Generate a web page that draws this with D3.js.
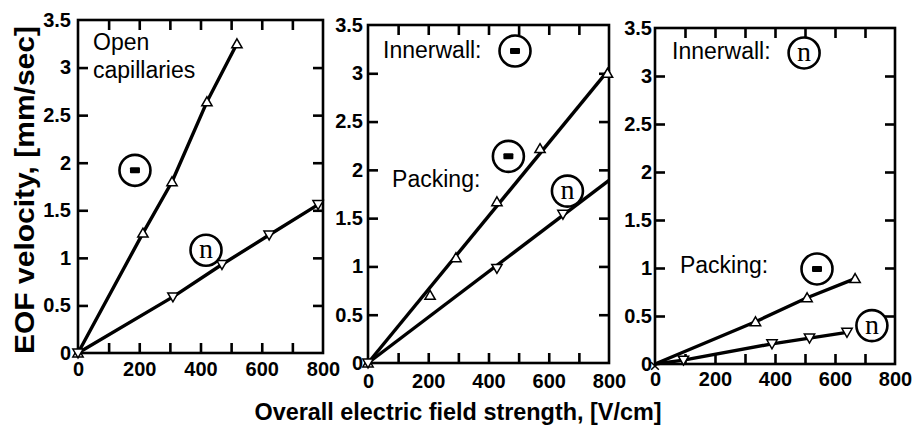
<!DOCTYPE html>
<html>
<head>
<meta charset="utf-8">
<script src="https://cdn.jsdelivr.net/npm/d3@7"></script>
<style>
  body { margin: 0; background: #fff; }
  svg { display: block; }
</style>
</head>
<body>
<svg id="chart" width="915" height="432"></svg>
<script>
// ---- axis ticks ----
const fieldTicks = [0, 200, 400, 600, 800];
const fieldMinorTicks = [100, 200, 300, 400, 500, 600, 700];
const velocityTicks = [0, 0.5, 1, 1.5, 2, 2.5, 3, 3.5];
const velocityInnerTicks = [0.5, 1, 1.5, 2, 2.5, 3];
const velocityLabels = ["0", "0.5", "1", "1.5", "2", "2.5", "3", "3.5"];

// ---- panel A: open capillaries ----
const openNegField = [0, 212, 307, 421, 519];
const openNegVel   = [0, 1.26, 1.80, 2.64, 3.25];
const openNeuField = [0, 310, 470, 624, 784];
const openNeuVel   = [0, 0.59, 0.93, 1.24, 1.56];

// ---- panel B: negatively charged inner wall ----
const negWallNegField = [0, 206, 292, 428, 571, 795];
const negWallNegVel   = [0, 0.70, 1.09, 1.67, 2.22, 3.00];
const negWallNeuField = [0, 428, 647];
const negWallNeuVel   = [0, 0.98, 1.54];
const negWallFitField  = [0, 800];
const negWallNegFitVel = [0, 3.04];
const negWallNeuFitVel = [0, 1.89];

// ---- panel C: neutral inner wall ----
const neuWallNegField = [0, 335, 507, 667];
const neuWallNegVel   = [0, 0.44, 0.69, 0.89];
const neuWallNeuField = [0, 95, 390, 515, 640];
const neuWallNeuVel   = [0, 0.04, 0.21, 0.27, 0.33];

const zip = (xs, ys) => xs.map((x, i) => [x, ys[i]]);

const panels = [
  {
    box: { left: 78, right: 323, top: 20, bottom: 353 }, labelGap: 7, xLabelDy: 16,
    series: [
      { pts: zip(openNegField, openNegVel), line: zip(openNegField, openNegVel), marker: "up" },
      { pts: zip(openNeuField, openNeuVel), line: zip(openNeuField, openNeuVel), marker: "down" }
    ],
    texts: [
      { t: "Open", x: 49, y: 3.18 },
      { t: "capillaries", x: 49, y: 2.89 }
    ],
    badges: [
      { k: "-", x: 186, y: 1.92 },
      { k: "n", x: 418, y: 1.08 }
    ]
  },
  {
    box: { left: 368, right: 609, top: 25, bottom: 363 }, labelGap: 5, xLabelDy: 18,
    series: [
      { pts: zip(negWallNegField, negWallNegVel), line: zip(negWallFitField, negWallNegFitVel), marker: "up" },
      { pts: zip(negWallNeuField, negWallNeuVel), line: zip(negWallFitField, negWallNeuFitVel), marker: "down" }
    ],
    texts: [
      { t: "Innerwall:", x: 50, y: 3.16 },
      { t: "Packing:", x: 80, y: 1.82 }
    ],
    badges: [
      { k: "-", x: 488, y: 3.23 },
      { k: "-", x: 466, y: 2.14 },
      { k: "n", x: 662, y: 1.78 }
    ]
  },
  {
    box: { left: 655, right: 895, top: 28, bottom: 364 }, labelGap: 3, xLabelDy: 15,
    series: [
      { pts: zip(neuWallNegField, neuWallNegVel).slice(1), line: zip(neuWallNegField, neuWallNegVel), marker: "up" },
      { pts: zip(neuWallNeuField, neuWallNeuVel).slice(1), line: zip(neuWallNeuField, neuWallNeuVel), marker: "down" }
    ],
    originCross: true,
    texts: [
      { t: "Innerwall:", x: 57, y: 3.18 },
      { t: "Packing:", x: 83, y: 0.95 }
    ],
    badges: [
      { k: "n", x: 497, y: 3.24 },
      { k: "-", x: 540, y: 0.99 },
      { k: "n", x: 723, y: 0.40 }
    ]
  }
];

const svg = d3.select("#chart");
const sansFont = "'Liberation Sans', Arial, Helvetica, sans-serif";
const triangle = d3.symbol().type(d3.symbolTriangle).size(46);
const tickLen = 10;

function styleTicks(sel) {
  sel.select(".domain").remove();
  sel.selectAll(".tick line").attr("stroke", "#000").attr("stroke-width", 2.6);
  sel.selectAll(".tick text")
    .attr("font-family", sansFont).attr("font-weight", "bold").attr("font-size", 20).attr("fill", "#000");
}

panels.forEach(p => {
  const b = p.box;
  const x = d3.scaleLinear().domain([0, 800]).range([b.left, b.right]);
  const y = d3.scaleLinear().domain([0, 3.5]).range([b.bottom, b.top]);
  const g = svg.append("g");

  // data lines
  const line = d3.line().x(d => x(d[0])).y(d => y(d[1]));
  p.series.forEach(s => {
    g.append("path").attr("d", line(s.line))
      .attr("fill", "none").attr("stroke", "#000").attr("stroke-width", 3.4)
      .attr("stroke-linejoin", "round");
  });

  // inward ticks on all four sides
  g.append("g").attr("transform", `translate(0,${b.bottom})`)
    .call(d3.axisBottom(x).tickValues(fieldMinorTicks).tickSize(-tickLen).tickFormat(""))
    .call(styleTicks);
  g.append("g").attr("transform", `translate(0,${b.top})`)
    .call(d3.axisTop(x).tickValues(fieldMinorTicks).tickSize(-tickLen).tickFormat(""))
    .call(styleTicks);
  g.append("g").attr("transform", `translate(${b.left},0)`)
    .call(d3.axisLeft(y).tickValues(velocityInnerTicks).tickSize(-tickLen).tickFormat(""))
    .call(styleTicks);
  g.append("g").attr("transform", `translate(${b.right},0)`)
    .call(d3.axisRight(y).tickValues(velocityInnerTicks).tickSize(-tickLen).tickFormat(""))
    .call(styleTicks);

  // tick labels
  const xLab = g.append("g").attr("transform", `translate(0,${b.bottom})`)
    .call(d3.axisBottom(x).tickValues(fieldTicks).tickSize(0).tickFormat(d3.format("d")))
    .call(styleTicks);
  xLab.selectAll(".tick text").attr("y", p.xLabelDy).attr("dy", "0.36em");
  const yLab = g.append("g").attr("transform", `translate(${b.left},0)`)
    .call(d3.axisLeft(y).tickValues(velocityTicks).tickSize(0).tickFormat((d, i) => velocityLabels[i]))
    .call(styleTicks);
  yLab.selectAll(".tick text").attr("x", -p.labelGap);

  // frame
  g.append("rect").attr("x", b.left).attr("y", b.top)
    .attr("width", b.right - b.left).attr("height", b.bottom - b.top)
    .attr("fill", "none").attr("stroke", "#000").attr("stroke-width", 2.6);

  // markers
  p.series.forEach(s => {
    g.selectAll(null).data(s.pts).join("path")
      .attr("d", triangle)
      .attr("transform", d => `translate(${x(d[0])},${y(d[1]) + (s.marker === "up" ? 1 : -1)}) rotate(${s.marker === "up" ? 0 : 180})`)
      .attr("fill", "#fff").attr("stroke", "#000").attr("stroke-width", 1.5);
  });
  if (p.originCross) {
    g.append("path").attr("d", d3.symbol().type(d3.symbolX).size(40)())
      .attr("transform", `translate(${x(0)},${y(0) + 2})`)
      .attr("fill", "none").attr("stroke", "#000").attr("stroke-width", 1.5);
  }

  // annotations
  p.texts.forEach(t => {
    g.append("text").attr("x", x(t.x)).attr("y", y(t.y))
      .attr("font-family", sansFont).attr("font-size", 23)
      .text(t.t);
  });
  p.badges.forEach(c => {
    const cx = x(c.x), cy = y(c.y);
    g.append("circle").attr("cx", cx).attr("cy", cy).attr("r", 15.5)
      .attr("fill", "#fff").attr("stroke", "#000").attr("stroke-width", 2.6);
    if (c.k === "-") {
      g.append("rect").attr("x", cx - 5).attr("y", cy - 3).attr("width", 10).attr("height", 6)
        .attr("rx", 1).attr("fill", "#000");
    } else {
      g.append("text").attr("x", cx).attr("y", cy + 8)
        .attr("text-anchor", "middle")
        .attr("font-family", "'Liberation Serif', 'Times New Roman', serif")
        .attr("font-size", 28).text("n");
    }
  });
});

// axis titles
svg.append("text")
  .attr("transform", "translate(34,190) rotate(-90)")
  .attr("text-anchor", "middle")
  .attr("font-family", sansFont).attr("font-weight", "bold").attr("font-size", 27)
  .attr("textLength", 328).attr("lengthAdjust", "spacingAndGlyphs")
  .text("EOF velocity, [mm/sec]");

svg.append("text")
  .attr("x", 458).attr("y", 420)
  .attr("text-anchor", "middle")
  .attr("font-family", sansFont).attr("font-weight", "bold").attr("font-size", 23)
  .attr("textLength", 407).attr("lengthAdjust", "spacingAndGlyphs")
  .text("Overall electric field strength, [V/cm]");
</script>
</body>
</html>
